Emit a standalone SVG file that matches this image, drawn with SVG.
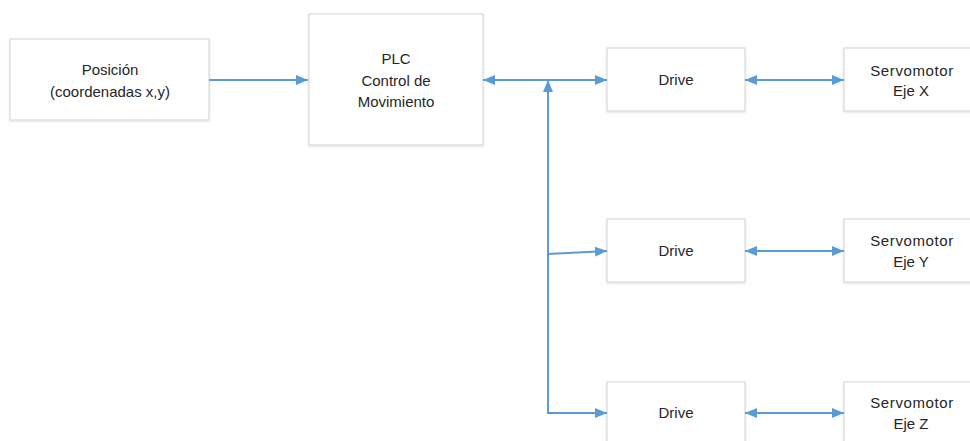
<svg xmlns="http://www.w3.org/2000/svg" width="970" height="441" viewBox="0 0 970 441">
<defs>
<marker id="ah" viewBox="0 0 12 10" refX="12" refY="5" markerWidth="12" markerHeight="10" markerUnits="userSpaceOnUse" orient="auto-start-reverse">
<path d="M0,0 L12,5 L0,10 z" fill="#5B9BD5"/>
</marker>
<filter id="sh" x="-10%" y="-10%" width="120%" height="130%">
<feDropShadow dx="0" dy="1" stdDeviation="1" flood-color="#000" flood-opacity="0.12"/>
</filter>
</defs>
<style>
.box{fill:#fff;stroke:#d9d9d9;stroke-width:1.2;filter:url(#sh)}
.t{font-family:"Liberation Sans",Arial,sans-serif;font-size:15px;fill:#262626;text-anchor:middle}
.c{fill:none;stroke:#5B9BD5;stroke-width:2}
</style>
<rect width="970" height="441" fill="#fff"/>
<g id="posicion">
<rect class="box" x="10" y="39" width="199" height="81"/>
<text class="t" x="110" y="75">Posición</text>
<text class="t" x="110" y="97">(coordenadas x,y)</text>
</g>
<g id="plc">
<rect class="box" x="309" y="14" width="174" height="131"/>
<text class="t" x="396" y="64">PLC</text>
<text class="t" x="396" y="86">Control de</text>
<text class="t" x="396" y="107">Movimiento</text>
</g>
<g id="drive1">
<rect class="box" x="607" y="48" width="138" height="63"/>
<text class="t" x="676" y="85">Drive</text>
</g>
<g id="servo1">
<rect class="box" x="844" y="48" width="140" height="63"/>
<text class="t" x="912" y="76" letter-spacing="0.6">Servomotor</text>
<text class="t" x="911" y="96">Eje X</text>
</g>
<g id="drive2">
<rect class="box" x="607" y="219" width="138" height="63"/>
<text class="t" x="676" y="256">Drive</text>
</g>
<g id="servo2">
<rect class="box" x="844" y="219" width="140" height="63"/>
<text class="t" x="912" y="246" letter-spacing="0.6">Servomotor</text>
<text class="t" x="911" y="267">Eje Y</text>
</g>
<g id="drive3">
<rect class="box" x="607" y="382" width="138" height="70"/>
<text class="t" x="676" y="418">Drive</text>
</g>
<g id="servo3">
<rect class="box" x="844" y="382" width="140" height="70"/>
<text class="t" x="912" y="408" letter-spacing="0.6">Servomotor</text>
<text class="t" x="911" y="429">Eje Z</text>
</g>
<g id="connectors">
<line class="c" x1="209" y1="80" x2="308" y2="80" marker-end="url(#ah)"/>
<line class="c" x1="483" y1="80" x2="607" y2="80" marker-start="url(#ah)" marker-end="url(#ah)"/>
<polyline class="c" points="548,413 548,80" marker-end="url(#ah)"/>
<line class="c" x1="548" y1="254" x2="607" y2="251" marker-end="url(#ah)"/>
<polyline class="c" points="548,400 548,413 607,413" marker-end="url(#ah)"/>
<line class="c" x1="745" y1="80" x2="844" y2="80" marker-start="url(#ah)" marker-end="url(#ah)"/>
<line class="c" x1="745" y1="251" x2="844" y2="251" marker-start="url(#ah)" marker-end="url(#ah)"/>
<line class="c" x1="745" y1="413" x2="844" y2="413" marker-start="url(#ah)" marker-end="url(#ah)"/>
</g>
</svg>
